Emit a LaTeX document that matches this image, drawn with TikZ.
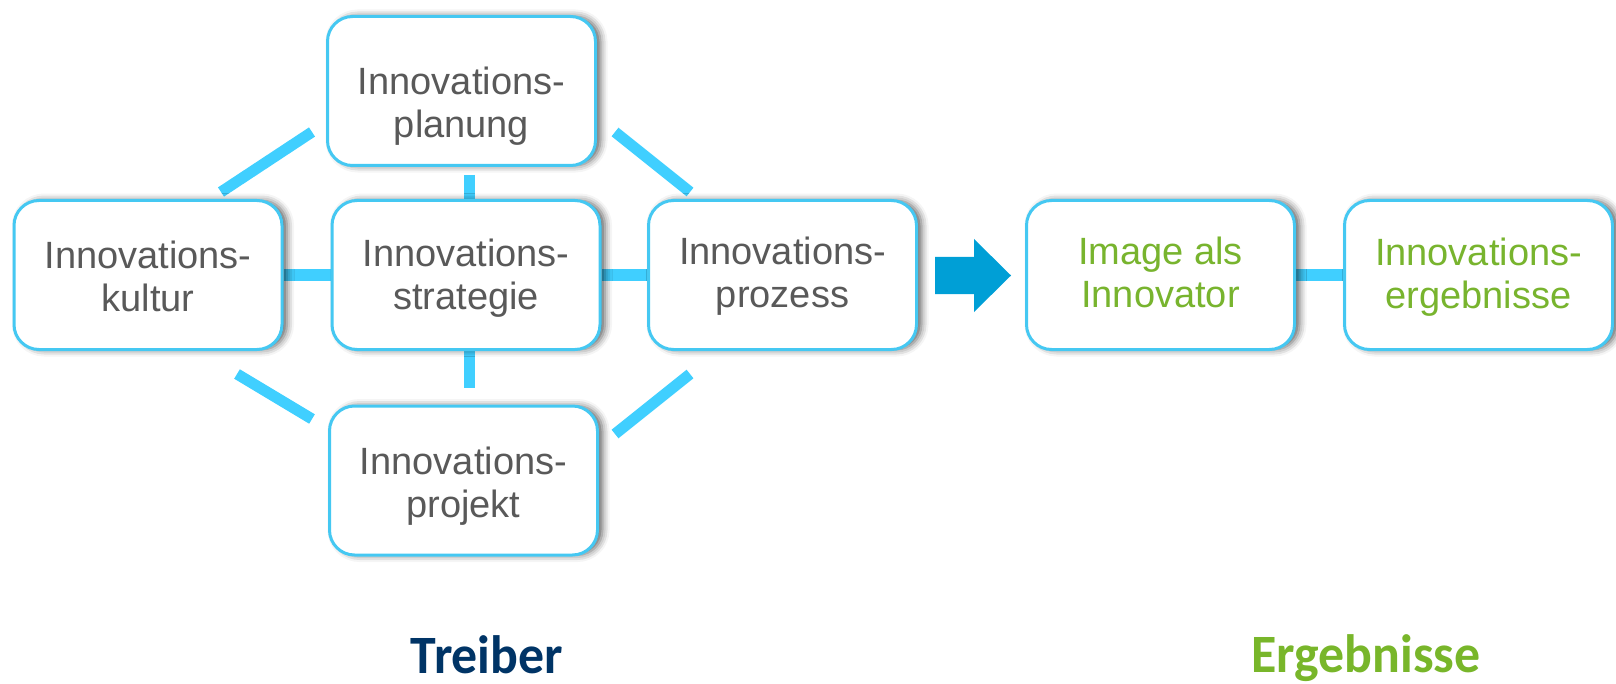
\documentclass[tikz,border=0pt]{standalone}
\usepackage{fontspec}
\setmainfont{Liberation Sans}
\newfontfamily\calfont{Carlito}[FakeStretch=0.96]
\usetikzlibrary{shadows.blur,backgrounds}
\definecolor{cyanline}{HTML}{40CFFF}
\definecolor{cyanborder}{HTML}{45C8F2}
\definecolor{arrowblue}{HTML}{009FD6}
\definecolor{txtgray}{HTML}{595959}
\definecolor{txtgreen}{HTML}{78B42E}
\definecolor{darkblue}{HTML}{003466}
\definecolor{labgreen}{HTML}{78B62A}
% two-line box text: #3 = (height above first baseline) - (depth below last baseline), in pt
\newcommand\twol[3]{\rule{0pt}{\dimexpr#3pt+6pt\relax}#1\\#2\rule[-6pt]{0pt}{0pt}}
\tikzset{
  box/.style={draw=cyanborder, line width=1.5pt, rounded corners=12.5pt, fill=white,
    minimum width=134pt, minimum height=74.5pt, align=center, text=txtgray, inner sep=0pt,
    font=\fontsize{19}{21.5}\selectfont,
    blur shadow={shadow xshift=2.5pt, shadow yshift=0pt, shadow blur radius=3.5pt, shadow opacity=62}},
  greenbox/.style={box, text=txtgreen},
  conn/.style={draw=cyanline, line width=5.5pt},
  biglabel/.style={font=\calfont\bfseries\fontsize{27}{30}\selectfont, inner sep=0pt, anchor=base}
}
\begin{document}
\begin{tikzpicture}[x=0.5pt,y=-0.5pt]
\useasboundingbox (0,0) rectangle (1616,684);
\node[box] (planung) at (461.5,91) {\twol{Innovations-}{planung}{25.5}};
\node[box] (kultur) at (148,275) {\twol{Innovations-}{kultur}{15}};
\node[box] (strategie) at (466,275) {\twol{Innovations-}{strategie}{12.5}};
\node[box] (prozess) at (782.5,275) {\twol{Innovations-}{prozess}{11}};
\node[box] (projekt) at (463.5,480.5) {\twol{Innovations-}{projekt}{15}};
\node[greenbox] (image) at (1160.5,275) {\twol{Image als}{Innovator}{11}};
\node[greenbox] (ergeb) at (1478.5,275) {\twol{Innovations-}{ergebnisse}{11.5}};
\node[biglabel, text=darkblue] (treiber) at (487,673) {Treiber};
\node[biglabel, text=labgreen] (ergebl) at (1366,672) {Ergebnisse};

\coordinate (ul1) at (221,192); \coordinate (ul2) at (312,132);
\coordinate (ur1) at (615,132); \coordinate (ur2) at (690,192);
\coordinate (ll1) at (237,374); \coordinate (ll2) at (312,419);
\coordinate (lr1) at (690,374); \coordinate (lr2) at (615,434);
\coordinate (vt) at (469,175);
\coordinate (vb) at (469,388);

\begin{scope}[on background layer]
\draw[conn] (ul1) -- (ul2);
\draw[conn] (ur1) -- (ur2);
\draw[conn] (ll1) -- (ll2);
\draw[conn] (lr1) -- (lr2);
\draw[conn] (vt) -- (vt |- strategie.north);
\draw[conn] (vb |- strategie.south) -- (vb);
\draw[conn] (kultur.east) -- (strategie.west);
\draw[conn] (strategie.east) -- (prozess.west);
\draw[conn] (image.east) -- (ergeb.west);
\end{scope}

\fill[arrowblue] (935,257) -- (974,257) -- (974,239) -- (1011,275.5) -- (974,312) -- (974,294) -- (935,294) -- cycle;
\end{tikzpicture}
\end{document}
